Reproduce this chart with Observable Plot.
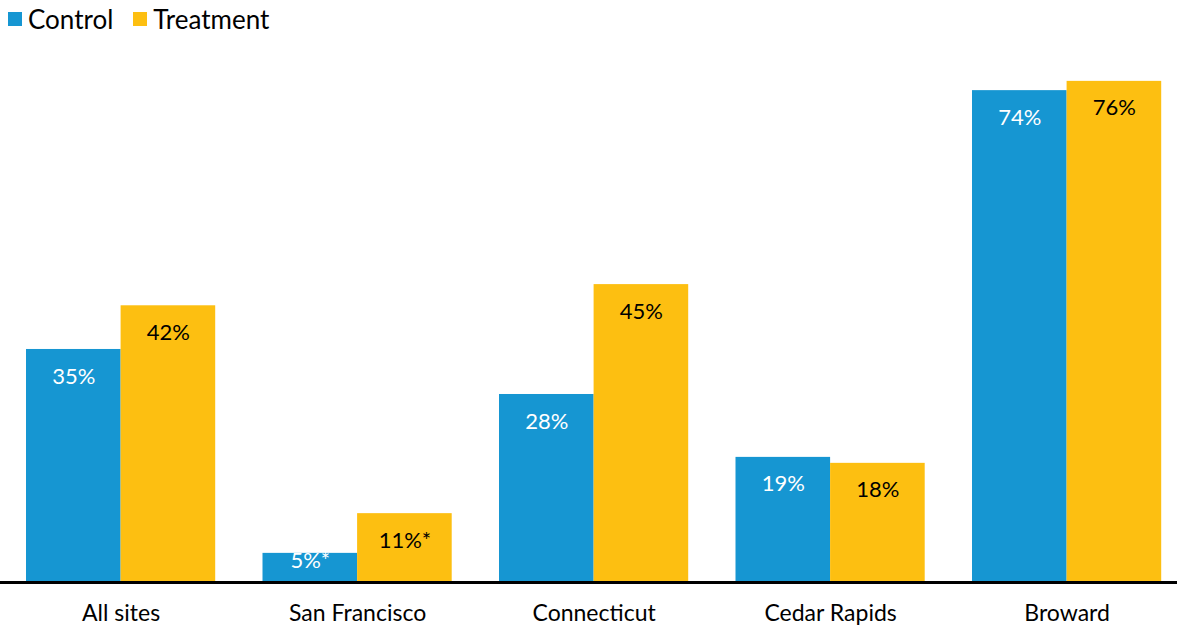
<!DOCTYPE html>
<html>
<head>
<meta charset="utf-8">
<script src="https://cdn.jsdelivr.net/npm/d3@7"></script>
<script src="https://cdn.jsdelivr.net/npm/@observablehq/plot@0.6"></script>
<style>
  html, body { margin: 0; padding: 0; background: #fff; }
  body { font-family: Lato, "Open Sans", sans-serif; width: 1177px; height: 625px; overflow: hidden; }
  #legend { height: 40px; display: flex; align-items: center; font-size: 26px; color: #000; padding-left: 8px; box-sizing: border-box; padding-bottom: 2px; }
  #legend .item { display: flex; align-items: center; margin-right: 20px; }
  #legend .sw { width: 14px; height: 14px; margin-right: 6px; }
</style>
</head>
<body>
<div id="legend"></div>
<div id="chart"></div>
<script>
const sites = ["All sites", "San Francisco", "Connecticut", "Cedar Rapids", "Broward"];
const seriesNames = ["Control", "Treatment"];
const seriesColors = ["#1696d2", "#fdbf11"];
const controlValues = [35.2, 4.4, 28.4, 18.9, 74.3];
const treatmentValues = [41.8, 10.4, 45.0, 18.0, 75.7];
const controlLabels = ["35%", "5%*", "28%", "19%", "74%"];
const treatmentLabels = ["42%", "11%*", "45%", "18%", "76%"];

const rows = [];
sites.forEach((s, i) => {
  rows.push({site: s, series: "Control", value: controlValues[i], label: controlLabels[i]});
  rows.push({site: s, series: "Treatment", value: treatmentValues[i], label: treatmentLabels[i]});
});

// legend
const legend = document.getElementById("legend");
seriesNames.forEach((n, i) => {
  const it = document.createElement("span");
  it.className = "item";
  const sw = document.createElement("span");
  sw.className = "sw";
  sw.style.background = seriesColors[i];
  it.appendChild(sw);
  it.appendChild(document.createTextNode(n));
  legend.appendChild(it);
});

const SMALL = 7;
const isCtrl = d => d.series === "Control";
const isTreat = d => d.series === "Treatment";

const chart = Plot.plot({
  width: 1177,
  height: 585,
  marginTop: 12.4,
  marginBottom: 43,
  marginLeft: 2.35,
  marginRight: -7.85,
  style: {fontFamily: "Lato, 'Open Sans', sans-serif", fontSize: "23px", color: "#000", background: "#fff"},
  fx: {domain: sites, paddingInner: 0.2, paddingOuter: 0.1, round: false, axis: "bottom", tickSize: 0, tickPadding: 22, label: null},
  x: {domain: seriesNames, padding: 0, round: false, axis: null},
  y: {domain: [0, 80], axis: null},
  color: {domain: seriesNames, range: seriesColors},
  marks: [
    Plot.barY(rows, {fx: "site", x: "series", y: "value", fill: "series"}),
    Plot.text(rows.filter(d => isCtrl(d) && d.value >= SMALL), {fx: "site", x: "series", y: "value", text: "label", dy: 27, fill: "white", fontSize: 22}),
    Plot.text(rows.filter(d => isTreat(d) && d.value >= SMALL), {fx: "site", x: "series", y: "value", text: "label", dy: 27, fill: "black", fontSize: 22}),
    Plot.text(rows.filter(d => isCtrl(d) && d.value < SMALL), {fx: "site", x: "series", y: 0, text: "label", dy: -22, fill: "white", fontSize: 22}),
    Plot.text(rows.filter(d => isTreat(d) && d.value < SMALL), {fx: "site", x: "series", y: 0, text: "label", dy: -22, fill: "black", fontSize: 22}),
    Plot.ruleY([0], {stroke: "#000", strokeWidth: 3, shapeRendering: "crispEdges", insetLeft: -30, insetRight: -30})
  ]
});
document.getElementById("chart").appendChild(chart);
</script>
</body>
</html>
